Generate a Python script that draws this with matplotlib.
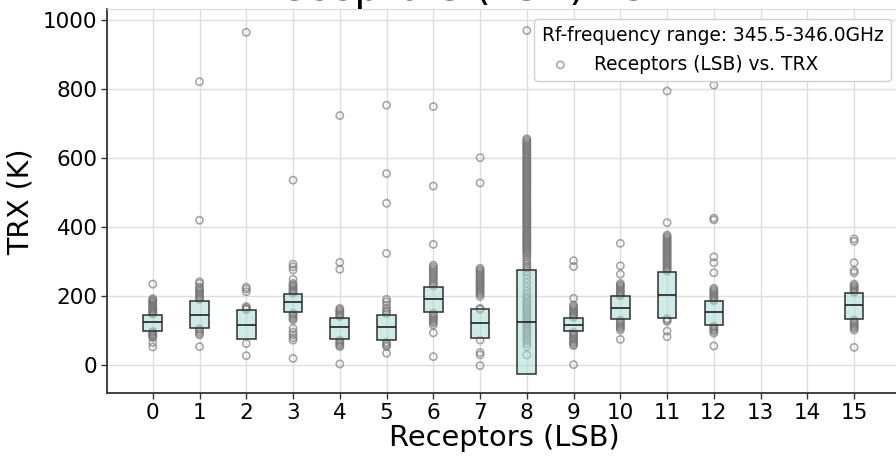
import matplotlib

matplotlib.use("Agg")
import matplotlib.pyplot as plt
import numpy as np

# ==========================================
# Data
# ==========================================
RECEPTORS = [0, 1, 2, 3, 4, 5, 6, 7, 8, 9, 10, 11, 12, 15]
XTICKS = list(range(16))

Q1 = [99, 107, 75, 152, 75, 71, 153, 79, -26, 97, 133, 137, 115, 132]
MEDIAN = [125, 145, 117, 182, 109, 109, 190, 121, 125, 115, 165, 203, 153, 173]
Q3 = [145, 186, 158, 206, 137, 144, 227, 161, 275, 137, 199, 270, 185, 209]

trx_0 = [234, 192, 189, 186, 183, 180, 177, 174, 171, 168, 165, 162, 159, 156,
         153, 150, 147, 97, 94, 91, 88, 85, 82, 79, 65, 52]
trx_1 = [820, 419, 241, 236, 226, 222, 217, 213, 209, 205, 201, 197, 193, 189,
         105, 101, 96, 91, 87, 53]
trx_2 = [963, 225, 220, 212, 169, 166, 163, 160, 62, 27]
trx_3 = [535, 292, 284, 275, 248, 236, 232, 228, 224, 220, 216, 212, 208,
         150, 146, 142, 138, 134, 130, 106, 95, 87, 79, 72, 19]
trx_4 = [722, 297, 277, 164, 160, 156, 152, 148, 144, 140, 72, 68, 64, 60,
         56, 53, 3]
trx_5 = [752, 554, 468, 323, 190, 183, 174, 164, 158, 153, 148, 66, 61, 57,
         53, 34]
trx_6 = [748, 518, 349, 289, 284, 279, 274, 269, 264, 259, 254, 249, 244, 239,
         234, 229, 150, 146, 142, 138, 134, 130, 126, 122, 116, 93, 24]
trx_7 = [600, 527, 280, 276, 272, 268, 264, 260, 256, 252, 248, 244, 240, 236,
         232, 228, 224, 220, 216, 212, 208, 204, 198, 164, 161, 72, 36, 29, -2]
trx_8 = [968, 655, 651, 647, 643, 639, 635, 631, 627, 623, 619, 615, 611, 607,
         603, 599, 595, 591, 587, 583, 579, 575, 571, 567, 563, 559, 555, 551,
         547, 543, 539, 535, 531, 527, 523, 519, 515, 511, 507, 503, 499, 495,
         491, 487, 483, 479, 475, 471, 467, 463, 459, 455, 451, 447, 443, 439,
         435, 431, 427, 423, 419, 415, 411, 407, 403, 399, 395, 391, 387, 383,
         379, 375, 371, 367, 363, 359, 355, 351, 347, 343, 339, 335, 331, 327,
         323, 318, 312, 305, 298, 292, 285, 280, 272, 262, 250, 238, 226, 214,
         205, 198, 191, 184, 178, 172, 166, 160, 154, 148, 142, 136, 130, 124,
         118, 112, 106, 100, 94, 88, 82, 76, 70, 62, 53, 29]
trx_9 = [302, 285, 193, 174, 170, 166, 162, 158, 154, 150, 146, 142, 138,
         95, 91, 87, 83, 79, 75, 71, 67, 63, 59, 56, 1]
trx_10 = [352, 287, 263, 236, 232, 228, 224, 220, 216, 212, 208, 204, 200,
          130, 126, 122, 118, 114, 110, 106, 101, 74]
trx_11 = [793, 412, 376, 372, 368, 364, 360, 356, 352, 348, 344, 340, 336,
          332, 328, 324, 320, 316, 312, 308, 304, 300, 296, 292, 288, 284,
          280, 276, 272, 134, 130, 126, 98, 82]
trx_12 = [810, 425, 420, 313, 296, 267, 222, 218, 214, 210, 206, 202, 198,
          194, 190, 186, 113, 109, 105, 101, 97, 92, 55]
trx_15 = [365, 358, 296, 273, 267, 234, 230, 226, 222, 218, 214, 210, 130,
          126, 122, 118, 114, 110, 106, 101, 51]

TRX = [trx_0, trx_1, trx_2, trx_3, trx_4, trx_5, trx_6, trx_7, trx_8, trx_9,
       trx_10, trx_11, trx_12, trx_15]

TITLE = "Receptors (LSB) vs. TRX"
LEGEND_TITLE = "Rf-frequency range: 345.5-346.0GHz"
SERIES_LABEL = "Receptors (LSB) vs. TRX"


def make_plot():
    fig = plt.figure(figsize=(8.96, 4.57), dpi=100)
    ax = fig.add_axes([107.4 / 896, 63.7 / 457, 793.5 / 896, 383.8 / 457])

    ax.set_axisbelow(True)
    ax.grid(True, color="#dedede", lw=1.0)

    # Points first, boxes drawn over them
    for i, (rec, vals) in enumerate(zip(RECEPTORS, TRX)):
        ax.scatter(
            [rec] * len(vals),
            vals,
            s=27,
            facecolors="none",
            edgecolors="#767676",
            linewidths=1.15,
            alpha=0.65,
            zorder=2,
            label=SERIES_LABEL if i == 0 else None,
        )

    heights = np.array(Q3) - np.array(Q1)
    ax.bar(RECEPTORS, heights, bottom=Q1, width=0.4,
           color="#a8dcd5", alpha=0.55, edgecolor="none", zorder=3)
    ax.bar(RECEPTORS, heights, bottom=Q1, width=0.4,
           fill=False, edgecolor="#2f2f2f", linewidth=1.1, zorder=4)
    ax.hlines(MEDIAN, np.array(RECEPTORS) - 0.2, np.array(RECEPTORS) + 0.2,
              color="#222222", lw=1.2, zorder=5)

    ax.set_xlim(-0.97, 16)
    ax.set_ylim(-82, 1029)
    ax.set_xticks(XTICKS)
    ax.set_yticks([0, 200, 400, 600, 800, 1000])
    ax.tick_params(axis="both", labelsize=15.5, length=4, width=1.0,
                   color="#333333", pad=3)

    for side in ["left", "bottom"]:
        ax.spines[side].set_color("#333333")
        ax.spines[side].set_linewidth(1.3)
    ax.spines["top"].set_color("#d8d8d8")
    ax.spines["right"].set_color("#d8d8d8")

    ax.set_xlabel("Receptors (LSB)", fontsize=20.8, labelpad=1)
    ax.set_ylabel("TRX (K)", fontsize=20.5, labelpad=6)
    ax.set_title(TITLE, fontsize=30, pad=2.5)

    # legend box: right edge ~891px, top ~19px in figure pixels
    leg = ax.legend(title=LEGEND_TITLE, loc="upper right",
                    fontsize=13.4, title_fontsize=13.4, alignment="left",
                    bbox_to_anchor=((891 - 107.4) / 793.5, (393.3 - 19) / 383.8),
                    borderaxespad=0.0, framealpha=1.0)
    leg.get_frame().set_edgecolor("#d0d0d0")

    fig.savefig("out.png", dpi=100)
    plt.close(fig)


if __name__ == "__main__":
    make_plot()
